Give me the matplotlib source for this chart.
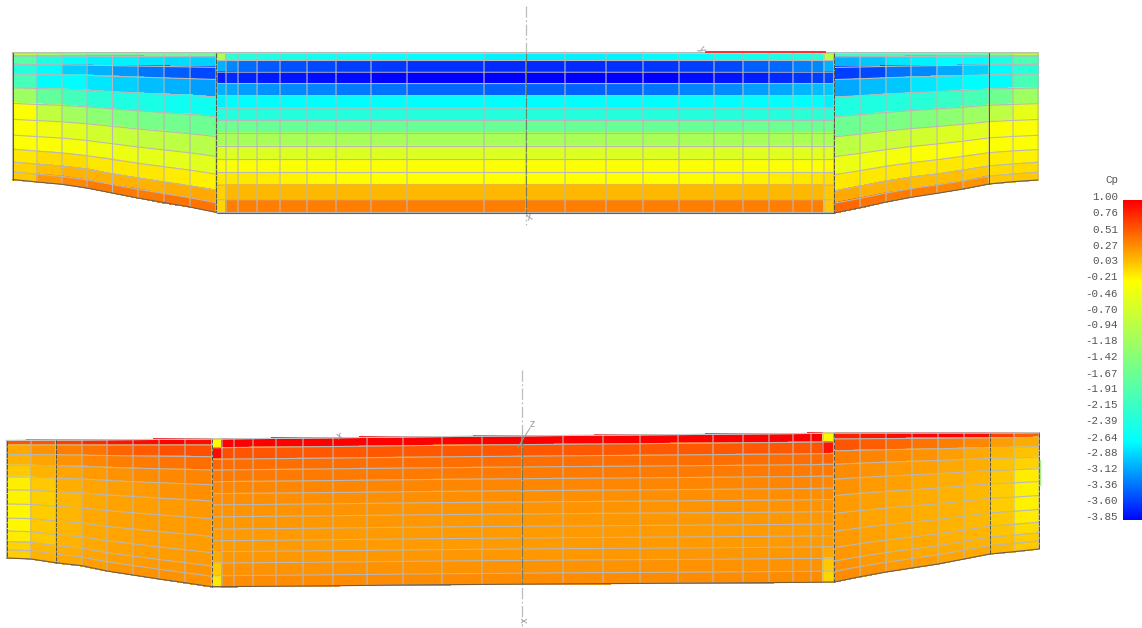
import numpy as np
import matplotlib
matplotlib.use("Agg")
import matplotlib.pyplot as plt
from matplotlib.colors import LinearSegmentedColormap, Normalize
from matplotlib.transforms import ScaledTranslation

CP_MIN, CP_MAX = -3.85, 1.00
colorbar_ticks = [1.00, 0.76, 0.51, 0.27, 0.03, -0.21, -0.46, -0.70, -0.94, -1.18, -1.42,
                  -1.67, -1.91, -2.15, -2.39, -2.64, -2.88, -3.12, -3.36, -3.60, -3.85]

# ---------- mesh stations (image-space model coordinates) ----------
wing_fracs = [0, .026, .092, .168, .277, .400, .525, .649, .761, .862, .940, 1]
top_centre_fracs = [0, .05, .123, .194, .269, .348, .425, .506, .587, .669, .75, .83, .92, 1]
bot_centre_fracs = [0, .059, .137, .21, .289, .37, .446, .527, .61, .689, .763, .84, .926, 1]
bot_wing_fracs = [0, .04, .12, .21, .31, .42, .54, .66, .77, .86, .93, 1]

tl_x = [12.5, 37, 62, 87, 112.5, 138, 164, 190, 216]
tl_top = [52.7, 52.7, 52.7, 52.7, 52.7, 52.7, 52.7, 52.7, 52.7]
tl_bot = [179.5, 182, 184.3, 188, 193, 198, 202.5, 207, 212.3]
tc_x = [217, 226, 238, 257, 280, 307, 336, 371, 407, 484, 526, 565, 606, 643, 679, 714, 743, 769, 793, 812, 824, 834]
tc_top = [52.5] * 22
tc_bot = [212.5] * 22
tr_x = [834, 860, 886, 911, 937, 963, 989, 1013, 1038]
tr_top = [52.7] * 9
tr_bot = [213, 207.7, 202, 197.3, 193.3, 189, 184, 181.7, 180]

bl_x = [6.5, 31, 55.5, 82, 107, 133, 159, 185, 212]
bl_top = [440.5, 440.3, 440.1, 440, 439.8, 439.6, 439.4, 439.2, 439]
bl_bot = [558, 559, 562.7, 565.7, 571, 575, 579, 582.7, 586.7]
bc_x = [212, 222, 234, 253, 276, 303, 333, 367, 403, 442, 482, 522, 563, 603, 640, 678, 713, 743, 769, 793, 811, 823, 834]
bc_top = [439, 439, 438.8, 438.6, 438.4, 438.1, 437.8, 437.4, 437, 436.6, 436.2, 435.9, 435.5, 435.2, 434.9, 434.6, 434.3, 434, 433.8, 433.6, 433.4, 433.2, 433]
bc_bot = [586.7, 586.6, 586.5, 586.4, 586.2, 586, 585.7, 585.4, 585, 584.7, 584.4, 584.1, 583.8, 583.6, 583.4, 583.2, 583, 582.8, 582.6, 582.4, 582.3, 582.1, 582]
br_x = [834, 860, 886, 912, 938, 964, 990, 1014, 1039]
br_top = [433, 433, 433, 433, 433, 433, 433, 433, 432.7]
br_bot = [582, 576.7, 572, 568, 564, 559, 554, 551.7, 549]

# ---------- Cp values (rows top to bottom, columns left to right) ----------
tl_cp = [
    [-0.80, -1.10, -1.40, -1.60, -1.60, -1.60, -1.60, -1.60],
    [-1.80, -2.35, -2.60, -2.70, -2.70, -2.75, -2.80, -2.85],
    [-2.30, -2.64, -2.85, -3.00, -3.12, -3.30, -3.40, -3.50],
    [-1.95, -2.64, -2.64, -2.75, -2.85, -2.95, -3.00, -3.10],
    [-1.15, -1.70, -2.00, -2.25, -2.35, -2.40, -2.50, -2.50],
    [-0.25, -0.80, -1.10, -1.30, -1.40, -1.50, -1.55, -1.60],
    [-0.25, -0.35, -0.50, -0.65, -0.75, -0.80, -0.85, -0.90],
    [-0.25, -0.25, -0.30, -0.35, -0.40, -0.45, -0.45, -0.50],
    [-0.10, -0.05, -0.05, -0.10, -0.10, -0.10, -0.12, -0.15],
    [0.00, 0.10, 0.15, 0.15, 0.15, 0.15, 0.17, 0.20],
    [0.05, 0.28, 0.35, 0.42, 0.42, 0.42, 0.45, 0.45],
]
tc_cp = [
    [-1.00, -2.20, -2.30, -2.35, -2.40, -2.50, -2.55, -2.60, -2.64, -2.70, -2.70, -2.70, -2.70, -2.65, -2.60, -2.50, -2.45, -2.40, -2.35, -2.25, -0.90],
    [-3.00, -3.20, -3.33, -3.42, -3.47, -3.50, -3.55, -3.58, -3.62, -3.65, -3.65, -3.65, -3.62, -3.60, -3.55, -3.50, -3.40, -3.35, -3.25, -3.20, -3.00],
    [-3.70, -3.65, -3.68, -3.72, -3.75, -3.78, -3.80, -3.83, -3.85, -3.85, -3.85, -3.85, -3.85, -3.85, -3.78, -3.75, -3.70, -3.65, -3.60, -3.55, -3.50],
    [-3.00, -3.05, -3.10, -3.15, -3.20, -3.22, -3.27, -3.30, -3.35, -3.38, -3.38, -3.38, -3.35, -3.30, -3.22, -3.18, -3.10, -3.05, -2.98, -2.95, -2.90],
    [-2.70, -2.64, -2.64, -2.64, -2.64, -2.64, -2.64, -2.64, -2.64, -2.64, -2.64, -2.64, -2.64, -2.64, -2.64, -2.64, -2.64, -2.64, -2.64, -2.64, -2.70],
    [-2.30, -2.30, -2.30, -2.30, -2.30, -2.30, -2.30, -2.30, -2.30, -2.30, -2.30, -2.30, -2.30, -2.30, -2.30, -2.30, -2.30, -2.30, -2.25, -2.25, -2.25],
    [-1.60, -1.60, -1.62, -1.65, -1.65, -1.65, -1.65, -1.65, -1.65, -1.65, -1.65, -1.65, -1.65, -1.65, -1.65, -1.65, -1.62, -1.60, -1.60, -1.60, -1.55],
    [-1.05, -1.05, -1.05, -1.05, -1.05, -1.05, -1.05, -1.05, -1.05, -1.05, -1.05, -1.05, -1.05, -1.05, -1.05, -1.05, -1.05, -1.05, -1.00, -1.00, -1.00],
    [-0.55, -0.55, -0.55, -0.55, -0.55, -0.55, -0.55, -0.55, -0.55, -0.55, -0.55, -0.55, -0.55, -0.55, -0.55, -0.55, -0.50, -0.50, -0.50, -0.50, -0.50],
    [-0.25, -0.25, -0.25, -0.25, -0.25, -0.25, -0.25, -0.25, -0.25, -0.25, -0.25, -0.25, -0.25, -0.25, -0.25, -0.25, -0.25, -0.25, -0.25, -0.25, -0.20],
    [-0.10, -0.10, -0.10, -0.12, -0.15, -0.18, -0.20, -0.22, -0.22, -0.22, -0.22, -0.22, -0.22, -0.22, -0.20, -0.18, -0.15, -0.12, -0.10, -0.08, -0.07],
    [0.00, 0.12, 0.12, 0.12, 0.12, 0.12, 0.12, 0.12, 0.12, 0.12, 0.12, 0.12, 0.12, 0.12, 0.12, 0.12, 0.12, 0.12, 0.12, 0.12, 0.05],
    [-0.02, 0.40, 0.40, 0.40, 0.40, 0.40, 0.40, 0.40, 0.40, 0.40, 0.40, 0.40, 0.40, 0.40, 0.40, 0.40, 0.40, 0.40, 0.40, 0.40, 0.05],
]
tr_cp = [
    [-2.10, -2.10, -2.00, -2.00, -1.90, -1.80, -1.40, -0.80],
    [-3.00, -2.90, -2.75, -2.70, -2.64, -2.64, -2.35, -1.90],
    [-3.55, -3.50, -3.30, -3.20, -3.05, -2.85, -2.64, -2.25],
    [-3.05, -2.95, -2.90, -2.75, -2.70, -2.64, -2.64, -1.95],
    [-2.35, -2.35, -2.30, -2.25, -2.10, -1.95, -1.60, -1.15],
    [-1.60, -1.50, -1.45, -1.40, -1.30, -1.15, -0.85, -0.45],
    [-0.85, -0.75, -0.70, -0.65, -0.55, -0.50, -0.25, -0.25],
    [-0.40, -0.35, -0.30, -0.25, -0.25, -0.25, -0.25, -0.25],
    [-0.10, -0.10, -0.10, -0.10, -0.10, -0.10, -0.12, -0.15],
    [0.20, 0.15, 0.15, 0.10, 0.10, 0.05, -0.05, -0.05],
    [0.50, 0.45, 0.42, 0.40, 0.35, 0.30, 0.05, 0.05],
]
bl_cp = [
    [0.60, 0.60, 0.70, 0.80, 0.90, 0.95, 1.00, 0.95],
    [0.20, 0.30, 0.40, 0.45, 0.52, 0.57, 0.62, 0.62],
    [0.15, 0.22, 0.30, 0.35, 0.40, 0.42, 0.45, 0.47],
    [0.05, 0.15, 0.22, 0.27, 0.30, 0.33, 0.35, 0.37],
    [-0.13, 0.05, 0.17, 0.22, 0.25, 0.27, 0.30, 0.32],
    [-0.15, 0.02, 0.13, 0.20, 0.23, 0.25, 0.27, 0.28],
    [-0.17, 0.03, 0.13, 0.20, 0.23, 0.25, 0.26, 0.27],
    [-0.17, 0.05, 0.13, 0.20, 0.22, 0.24, 0.25, 0.26],
    [-0.12, 0.05, 0.15, 0.20, 0.23, 0.25, 0.26, 0.27],
    [0.00, 0.12, 0.17, 0.22, 0.25, 0.27, 0.28, 0.29],
    [0.02, 0.15, 0.20, 0.25, 0.28, 0.30, 0.30, 0.30],
]
bc_cp = [
    [-0.18, 1.00, 1.00, 1.00, 1.00, 1.00, 1.00, 1.00, 1.00, 1.00, 1.00, 1.00, 1.00, 1.00, 1.00, 1.00, 1.00, 1.00, 1.00, 1.00, 1.00, -0.18],
    [0.95, 0.62, 0.60, 0.60, 0.58, 0.58, 0.58, 0.58, 0.58, 0.58, 0.58, 0.58, 0.58, 0.58, 0.58, 0.58, 0.58, 0.58, 0.58, 0.58, 0.60, 0.90],
    [0.50, 0.47, 0.47, 0.47, 0.47, 0.47, 0.47, 0.47, 0.47, 0.47, 0.47, 0.47, 0.47, 0.47, 0.47, 0.47, 0.47, 0.47, 0.47, 0.47, 0.47, 0.50],
    [0.42, 0.42, 0.42, 0.42, 0.42, 0.42, 0.42, 0.42, 0.42, 0.42, 0.42, 0.42, 0.42, 0.42, 0.42, 0.42, 0.42, 0.42, 0.42, 0.42, 0.42, 0.42],
    [0.35, 0.36, 0.36, 0.36, 0.36, 0.36, 0.36, 0.36, 0.36, 0.36, 0.36, 0.36, 0.36, 0.36, 0.36, 0.36, 0.36, 0.36, 0.36, 0.36, 0.36, 0.35],
    [0.32, 0.32, 0.32, 0.32, 0.32, 0.32, 0.32, 0.32, 0.32, 0.32, 0.32, 0.32, 0.32, 0.32, 0.32, 0.32, 0.32, 0.32, 0.32, 0.32, 0.32, 0.32],
    [0.29, 0.29, 0.29, 0.29, 0.29, 0.29, 0.29, 0.29, 0.29, 0.29, 0.29, 0.29, 0.29, 0.29, 0.29, 0.29, 0.29, 0.29, 0.29, 0.29, 0.29, 0.29],
    [0.28, 0.28, 0.28, 0.28, 0.28, 0.28, 0.28, 0.28, 0.28, 0.28, 0.28, 0.28, 0.28, 0.28, 0.28, 0.28, 0.28, 0.28, 0.28, 0.28, 0.28, 0.28],
    [0.27, 0.27, 0.27, 0.27, 0.27, 0.27, 0.27, 0.27, 0.27, 0.27, 0.27, 0.27, 0.27, 0.27, 0.27, 0.27, 0.27, 0.27, 0.27, 0.27, 0.27, 0.27],
    [0.26, 0.27, 0.27, 0.27, 0.27, 0.27, 0.27, 0.27, 0.27, 0.27, 0.27, 0.27, 0.27, 0.27, 0.27, 0.27, 0.27, 0.27, 0.27, 0.27, 0.27, 0.26],
    [0.20, 0.28, 0.28, 0.28, 0.28, 0.28, 0.28, 0.28, 0.28, 0.28, 0.28, 0.28, 0.28, 0.28, 0.28, 0.28, 0.28, 0.28, 0.28, 0.28, 0.28, 0.20],
    [0.05, 0.30, 0.30, 0.30, 0.30, 0.30, 0.30, 0.30, 0.30, 0.30, 0.30, 0.30, 0.30, 0.30, 0.30, 0.30, 0.30, 0.30, 0.30, 0.30, 0.30, 0.05],
    [-0.10, 0.33, 0.33, 0.33, 0.33, 0.33, 0.33, 0.33, 0.33, 0.33, 0.33, 0.33, 0.33, 0.33, 0.33, 0.33, 0.33, 0.33, 0.33, 0.33, 0.33, -0.02],
]
br_cp = [
    [0.85, 0.90, 0.95, 1.00, 1.00, 0.95, 0.70, 0.55],
    [0.60, 0.55, 0.50, 0.45, 0.40, 0.35, 0.25, 0.18],
    [0.40, 0.37, 0.33, 0.30, 0.25, 0.20, 0.13, 0.08],
    [0.33, 0.30, 0.27, 0.24, 0.20, 0.17, 0.07, 0.00],
    [0.30, 0.27, 0.24, 0.20, 0.17, 0.14, 0.05, -0.12],
    [0.27, 0.24, 0.20, 0.18, 0.15, 0.12, 0.03, -0.15],
    [0.27, 0.22, 0.20, 0.17, 0.15, 0.12, 0.03, -0.15],
    [0.27, 0.23, 0.20, 0.18, 0.15, 0.12, 0.05, -0.12],
    [0.28, 0.25, 0.20, 0.20, 0.16, 0.14, 0.07, -0.05],
    [0.30, 0.27, 0.23, 0.20, 0.18, 0.15, 0.10, 0.03],
    [0.33, 0.30, 0.27, 0.25, 0.22, 0.20, 0.13, 0.05],
]

# ---------- decorations ----------
GRID = "#b8b8b8"
DARK = "#55553f"
AXIS = "#bdbdbd"
axis_top_x, axis_top_y = [526, 526], [6, 225]
axis_bot_x, axis_bot_y = [522, 522], [370, 626]
hinge_lines = [
    ([12.5, 12.5], [52.7, 179.5], "-"), ([216, 216], [52.7, 212.3], (0, (5, 1))),
    ([833.5, 833.5], [52.7, 213], (0, (5, 1))), ([989, 989], [52.7, 184], "-"),
    ([6.5, 6.5], [440.5, 558], (0, (5, 1))), ([55.5, 55.5], [440.1, 562.7], (0, (4, 1))),
    ([212, 212], [439, 586.7], (0, (4, 2))), ([834, 834], [433, 582], (0, (4, 2))),
    ([990, 990], [433, 554], (0, (4, 1))), ([1039, 1039], [432.7, 549], (0, (5, 1))),
]
triad_labels = [("y", 701, 49, 300), ("x", 529, 217, 20), ("z", 532, 424, 0),
                ("x", 339, 436, 20), ("x", 525, 620, 90)]


def nodes(x, top, bot, fracs):
    x, top, bot = np.array(x, float), np.array(top, float), np.array(bot, float)
    f = np.array(fracs)[:, None]
    return np.tile(x, (len(fracs), 1)), top + f * (bot - top)


cmap = LinearSegmentedColormap.from_list(
    "cp", [(0, "#0000ff"), (0.25, "#00ffff"), (0.75, "#ffff00"), (1, "#ff0000")], N=512)
norm = Normalize(CP_MIN, CP_MAX)

fig = plt.figure(figsize=(11.42, 6.28), dpi=100, facecolor="white")
ax = fig.add_axes([0, 0, 1, 1])
ax.set_xlim(0, 1142)
ax.set_ylim(628, 0)
ax.axis("off")

panels = [
    (tl_x, tl_top, tl_bot, wing_fracs, tl_cp),
    (tc_x, tc_top, tc_bot, top_centre_fracs, tc_cp),
    (tr_x, tr_top, tr_bot, wing_fracs, tr_cp),
    (bl_x, bl_top, bl_bot, bot_wing_fracs, bl_cp),
    (bc_x, bc_top, bc_bot, bot_centre_fracs, bc_cp),
    (br_x, br_top, br_bot, bot_wing_fracs, br_cp),
]
mesh = None
for px, pt, pb, pf, pc in panels:
    X, Y = nodes(px, pt, pb, pf)
    mesh = ax.pcolormesh(X, Y, np.array(pc), cmap=cmap, norm=norm, shading="flat",
                         edgecolors="face", linewidth=0.3, zorder=2)
    # wireframe as unsnapped lines, so the sloped rows stay continuous
    for line in ax.plot(X, Y, color=GRID, lw=0.8, zorder=2.5) + ax.plot(X.T, Y.T, color=GRID, lw=0.8, zorder=2.5):
        line.set_snap(False)
    ax.plot(px, pb, color="#7a5a35", lw=0.8, zorder=3, solid_capstyle="butt")
    ax.plot(px, pt, color="#c8c8c8", lw=0.8, zorder=3, solid_capstyle="butt")

for hx, hy, ls in hinge_lines:
    ax.plot(hx, hy, color=DARK, lw=0.7, ls=ls, zorder=4)

# red top strip and surface sliver
ax.plot([706, 825], [52.2, 52.2], color="#ff2020", lw=1.3, zorder=5)
ax.plot([1040, 1040], [460, 485], color="#a8f08c", lw=1.0, zorder=5)

# symmetry axes: grey in the open, dark across the mesh
for ax_x, ax_y, span in [(axis_top_x, axis_top_y, [52.5, 212.5]), (axis_bot_x, axis_bot_y, [436, 584])]:
    ax.plot(ax_x, ax_y, color=AXIS, lw=0.9, ls=(0, (9, 2, 1.5, 2)), zorder=1)
    ax.plot(ax_x, span, color="#5c6a50", lw=0.8, ls=(0, (9, 1)), alpha=0.75, zorder=4)

for s, tx, ty, rot in triad_labels:
    ax.text(tx, ty, s, fontsize=7, color="#9a9a9a", rotation=rot, ha="center", va="center",
            family="DejaVu Sans", zorder=6)
ax.plot([518, 530], [447, 428], color="#a0a0a0", lw=0.7, zorder=5)

# colour bar
cax = fig.add_axes([1123 / 1142, (628 - 519.5) / 628, 19 / 1142, 320 / 628])
cb = fig.colorbar(mesh, cax=cax, ticks=colorbar_ticks, orientation="vertical")
cb.solids.set_edgecolor("face")
cb.outline.set_visible(False)
cax.yaxis.set_ticks_position("left")
cax.tick_params(length=0, pad=3.5, labelsize=7.8, labelcolor="#555555")
cax.set_yticklabels([f"{v:.2f}" for v in colorbar_ticks], family="Liberation Mono")
shift = ScaledTranslation(0, 3 / 100, fig.dpi_scale_trans)
for lab in cax.get_yticklabels():
    lab.set_transform(lab.get_transform() + shift)
fig.text(1112 / 1142, 1 - 180 / 628, "Cp", fontsize=7.8, color="#555555", family="Liberation Mono",
         ha="center", va="center")

fig.savefig("out.png", dpi=100)
